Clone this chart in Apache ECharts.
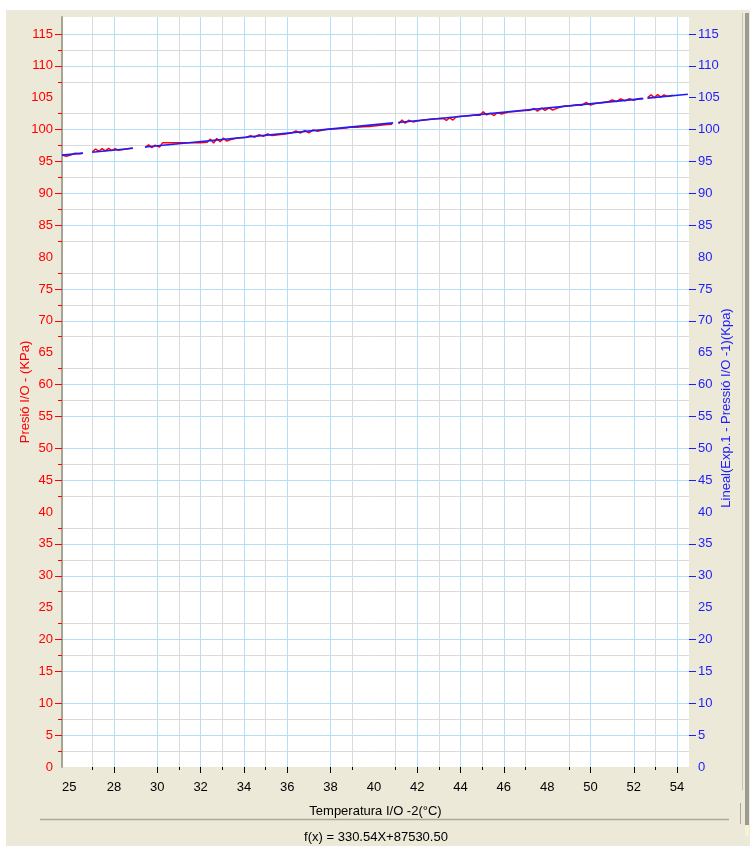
<!DOCTYPE html>
<html>
<head>
<meta charset="utf-8">
<title>Presió vs Temperatura</title>
<script src="https://cdn.jsdelivr.net/npm/echarts@6.0.0/dist/echarts.min.js"></script>
<style>
    html, body { margin: 0; padding: 0; background: #fff; }
    #bg { position: absolute; left: 6px; top: 10px; width: 744px; height: 836px; background: #ece9d8; }
    #chart { position: absolute; left: 0; top: 0; width: 750px; height: 846px; }
</style>
</head>
<body>
<div id="bg"></div>
<div id="chart"></div>
<script>
// eixos
var xMin = 25.6, xMax = 54.55;
var yMin = 0, yMax = 117.66;

// etiquetes i marques de l'eix X
var xLabelValues = [25.6, 28, 30, 32, 34, 36, 38, 40, 42, 44, 46, 48, 50, 52, 54];
var xMajorTicks = [28, 30, 32, 34, 36, 38, 42, 44, 46, 50, 52, 54];
var xMinorTicks = [27, 31, 33, 35, 39, 41, 43, 45, 47, 49, 53];

// etiquetes i marques dels eixos Y
var yLabelValues = [0, 5, 10, 15, 20, 25, 30, 35, 40, 45, 50, 55, 60, 65, 70, 75, 80, 85, 90, 95, 100, 105, 110, 115];
var yLeftTicks = [5, 10, 15, 20, 30, 35, 45, 50, 55, 60, 70, 75, 85, 90, 95, 100, 110, 115];
var yRightTicks = [5, 10, 15, 20, 30, 35, 45, 50, 55, 60, 70, 75, 85, 90, 95, 100, 105, 110, 115];
var yMinorTicks = [2.5, 7.5, 17.5, 22.5, 27.5, 32.5, 37.5, 42.5, 47.5, 57.5, 62.5, 67.5, 72.5, 77.5, 82.5, 87.5, 92.5, 97.5, 102.5, 107.5, 112.5];

// dades mesurades (null = tall)
var redT = [25.6, 25.8, 26.0, 26.2, 26.4, 26.55, null,
    27.0, 27.15, 27.3, 27.45, 27.6, 27.75, 27.9, 28.05, 28.2, 28.5, 28.85, null,
    29.45, 29.6, 29.75, 29.9, 30.1, 30.25, 30.8, 31.4, 32.0, 32.3, 32.45, 32.6, 32.75, 32.9, 33.05, 33.2, 33.4, 33.6, 33.8,
    34.1, 34.3, 34.5, 34.7, 34.9, 35.1, 35.3, 35.6, 35.9, 36.2, 36.4, 36.6, 36.8, 37.0, 37.2, 37.4, 37.6, 37.8,
    38.1, 38.4, 38.7, 38.9, 39.2, 39.5, 39.8, 40.1, 40.4, 40.6, 40.85, null,
    41.15, 41.3, 41.45, 41.6, 41.8, 42.0, 42.3, 42.6, 42.9, 43.2, 43.35, 43.5, 43.65, 43.8, 44.1, 44.4, 44.7, 44.9, 45.05, 45.2,
    45.4, 45.55, 45.7, 45.9, 46.2, 46.5, 46.8, 47.2, 47.4, 47.55, 47.75, 47.9, 48.1, 48.25, 48.5, 48.8, 49.1, 49.4, 49.6, 49.8,
    50.0, 50.2, 50.5, 50.8, 51.0, 51.2, 51.4, 51.6, 51.8, 52.0, 52.2, 52.4, null,
    52.65, 52.8, 52.95, 53.1, 53.25, 53.4, 53.55, 53.8];
var redP = [96.0, 95.8, 96.0, 96.3, 96.2, 96.3, null,
    96.5, 96.95, 96.6, 97.0, 96.65, 97.05, 96.7, 97.0, 96.75, 96.9, 97.1, null,
    97.2, 97.6, 97.15, 97.55, 97.25, 97.95, 97.95, 97.95, 97.95, 98.0, 98.5, 97.9, 98.6, 98.1, 98.65, 98.2, 98.45, 98.6, 98.7,
    98.75, 99.05, 98.8, 99.2, 98.95, 99.3, 99.05, 99.2, 99.3, 99.45, 99.8, 99.45, 99.85, 99.5, 99.95, 99.75, 99.9, 100.0,
    100.1, 100.15, 100.25, 100.35, 100.35, 100.45, 100.5, 100.6, 100.7, 100.8, 100.85, null,
    100.9, 101.5, 101.0, 101.45, 101.2, 101.35, 101.5, 101.6, 101.7, 101.75, 101.45, 101.85, 101.5, 102.0, 102.1, 102.15, 102.3, 102.25, 102.8, 102.3,
    102.55, 102.2, 102.65, 102.45, 102.75, 102.85, 102.95, 103.05, 103.3, 102.9, 103.35, 103.0, 103.4, 103.05, 103.4, 103.7, 103.75, 103.9, 103.8, 104.25,
    103.85, 104.1, 104.2, 104.35, 104.65, 104.4, 104.8, 104.5, 104.85, 104.6, 104.85, 104.9, null,
    105.05, 105.45, 105.0, 105.5, 105.1, 105.45, 105.2, 105.4];

// recta d'ajust (null = tall)
var fitT = [25.6, 26.57, null, 26.99, 28.88, null, 29.43, 40.89, null, 41.12, 52.44, null, 52.63, 54.5];
var fitP = [95.99, 96.31, null, 96.45, 97.08, null, 97.26, 101.05, null, 101.12, 104.86, null, 104.93, 105.54];

var formula = 'f(x) = 330.54X+87530.50';

function pairs(xs, ys) {
    var out = [];
    for (var i = 0; i < xs.length; i++) {
        out.push(xs[i] == null ? ['-', '-'] : [xs[i], ys[i]]);
    }
    return out;
}

var FONT = '"Liberation Sans", Arial, sans-serif';
var RED = '#ff0000', BLUE = '#1c1cff';
var GRID_BLUE = '#b6def7', GRID_GREY = '#dadada';

var chart = echarts.init(document.getElementById('chart'), null, { renderer: 'canvas' });
var option = {
    animation: false,
    backgroundColor: 'transparent',
    grid: {
        left: 62, right: 61, top: 17, bottom: 79,
        show: true, backgroundColor: '#fff', borderWidth: 0
    },
    xAxis: [{
        type: 'value', position: 'bottom', min: xMin, max: xMax,
        name: 'Temperatura I/O -2(°C)', nameLocation: 'middle', nameGap: 38, nameMoveOverlap: false,
        nameTextStyle: { color: '#000', fontSize: 13, fontFamily: FONT },
        axisLine: { show: false },
        axisTick: { show: true, customValues: xMajorTicks, length: 6, lineStyle: { color: '#000', width: 1 } },
        axisLabel: {
            customValues: xLabelValues, margin: 14, color: '#000', fontSize: 13, fontFamily: FONT,
            alignMinLabel: 'left',
            formatter: function (v) { return String(Math.floor(v)); }
        },
        splitLine: { show: true, lineStyle: { color: GRID_BLUE, width: 1 } }
    }, {
        type: 'value', position: 'bottom', min: xMin, max: xMax,
        axisLine: { show: false },
        axisTick: { show: true, customValues: xMinorTicks, length: 3, lineStyle: { color: '#000', width: 1 } },
        axisLabel: { show: false },
        splitLine: { show: true, lineStyle: { color: GRID_GREY, width: 1 } }
    }],
    yAxis: [{
        type: 'value', position: 'left', min: yMin, max: yMax,
        name: 'Presió I/O - (KPa)', nameLocation: 'middle', nameGap: 30, nameRotate: 90, nameMoveOverlap: false,
        nameTextStyle: { color: RED, fontSize: 13, fontFamily: FONT },
        axisLine: { show: true, lineStyle: { color: '#a8a493', width: 2 } },
        axisTick: { show: true, customValues: yLeftTicks, length: 7, lineStyle: { color: RED, width: 1 } },
        axisLabel: { customValues: yLabelValues, margin: 9, color: RED, fontSize: 13, fontFamily: FONT },
        splitLine: { show: true, lineStyle: { color: GRID_BLUE, width: 1 } }
    }, {
        type: 'value', position: 'left', min: yMin, max: yMax,
        axisLine: { show: false },
        axisTick: { show: true, customValues: yMinorTicks, length: 4, lineStyle: { color: RED, width: 1 } },
        axisLabel: { show: false },
        splitLine: { show: true, lineStyle: { color: GRID_GREY, width: 1 } }
    }, {
        type: 'value', position: 'right', min: yMin, max: yMax,
        name: 'Lineal(Exp.1 - Pressió I/O -1)(Kpa)', nameLocation: 'middle', nameGap: 31, nameRotate: 90, nameMoveOverlap: false,
        nameTextStyle: { color: BLUE, fontSize: 13, fontFamily: FONT, padding: [0, 32, 0, 0] },
        axisLine: { show: false },
        axisTick: { show: true, customValues: yRightTicks, length: 7, lineStyle: { color: BLUE, width: 1 } },
        axisLabel: { customValues: yLabelValues, margin: 9, color: BLUE, fontSize: 13, fontFamily: FONT },
        splitLine: { show: false }
    }],
    series: [{
        name: 'Presió I/O',
        type: 'line', xAxisIndex: 0, yAxisIndex: 0,
        data: pairs(redT, redP),
        showSymbol: false, connectNulls: false,
        lineStyle: { color: RED, width: 1.5 }
    }, {
        name: 'Lineal',
        type: 'line', xAxisIndex: 0, yAxisIndex: 2,
        data: pairs(fitT, fitP),
        showSymbol: false, connectNulls: false,
        lineStyle: { color: BLUE, width: 1.6 }
    }],
    graphic: [
        { type: 'line', shape: { x1: 40, y1: 819.5, x2: 729, y2: 819.5 }, style: { stroke: '#aca899', lineWidth: 1.5 } },
        { type: 'line', shape: { x1: 742.5, y1: 13, x2: 742.5, y2: 790 }, style: { stroke: '#c6c3b4', lineWidth: 1 } },
        { type: 'line', shape: { x1: 740.5, y1: 803, x2: 740.5, y2: 824 }, style: { stroke: '#aca899', lineWidth: 1 } },
        { type: 'rect', shape: { x: 745, y: 13, width: 4, height: 812 }, style: { fill: '#9c9a92' } },
        { type: 'rect', shape: { x: 745, y: 826, width: 4, height: 10 }, style: { fill: '#f7f3d2' } },
        {
            type: 'text', x: 376, y: 837,
            style: { text: formula, fill: '#000', font: '13px ' + FONT, textAlign: 'center', textVerticalAlign: 'middle' }
        }
    ]
};
chart.setOption(option);
</script>
</body>
</html>
